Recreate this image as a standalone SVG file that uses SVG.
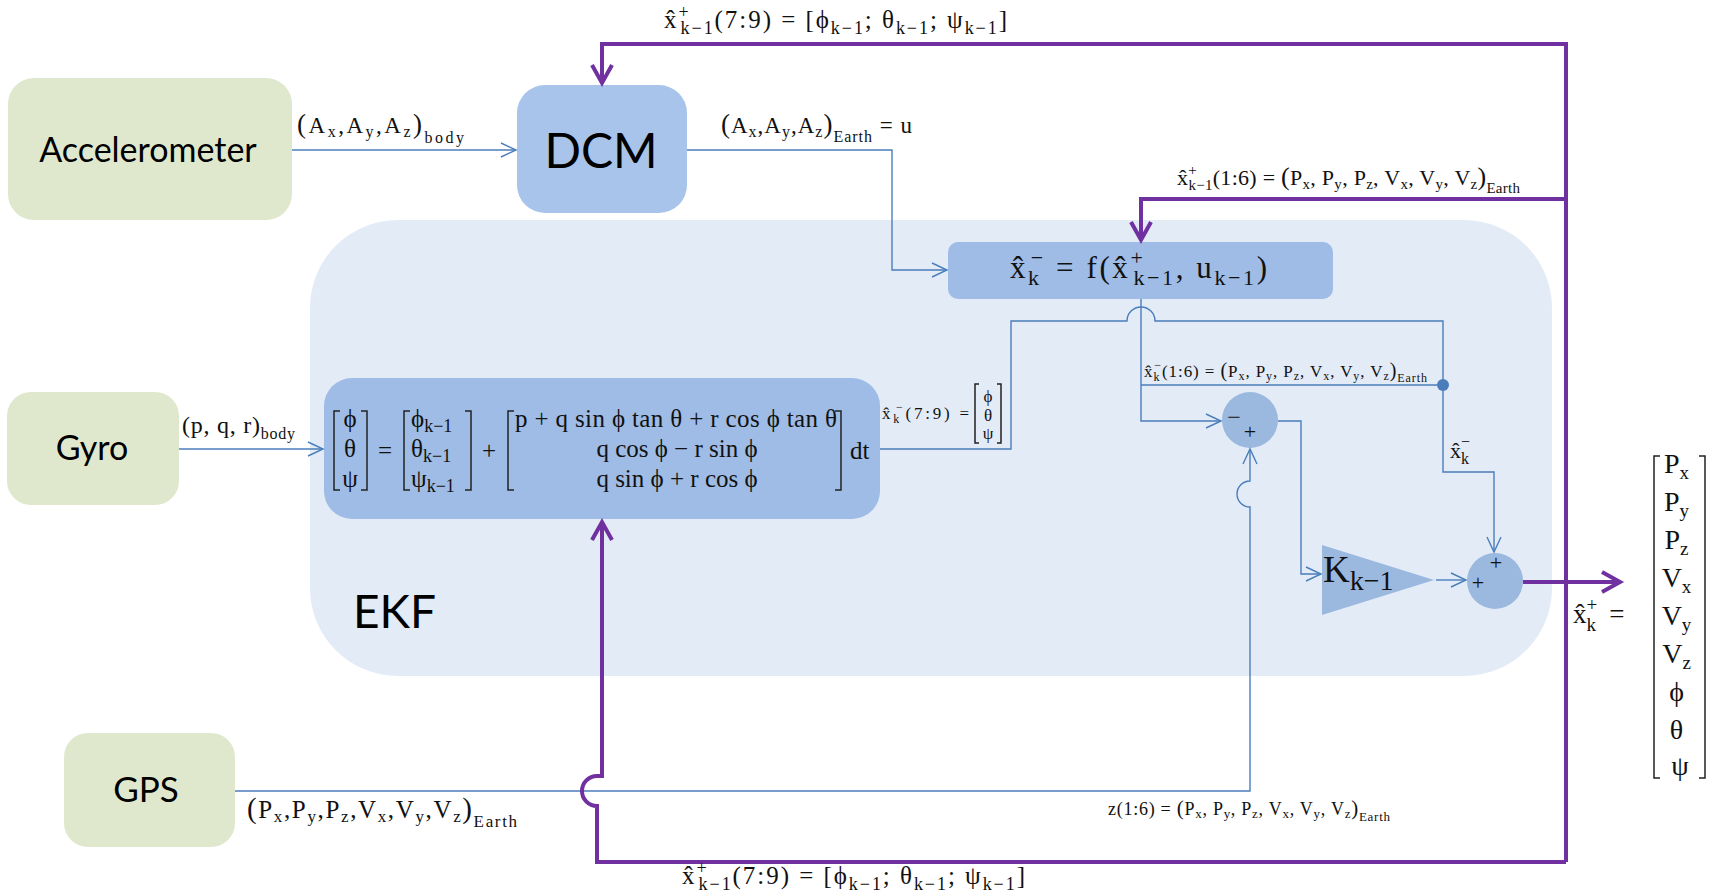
<svg xmlns="http://www.w3.org/2000/svg" width="1717" height="896" viewBox="0 0 1717 896">
<style>
.src{fill:#DFE8CC}
.box{fill:#9EBCE5}
.m{font-family:"Liberation Serif","DejaVu Serif",serif;fill:#111}
.s{font-family:Lato,"Open Sans","Liberation Sans",sans-serif;fill:#000}
.b{fill:none;stroke:#4A7EBB;stroke-width:1.4}
.p{fill:none;stroke:#7030A0;stroke-width:4}
.br{fill:none;stroke:#222;stroke-width:1.5}
</style>
<defs>
<marker id="ab" viewBox="0 0 18 16" refX="16" refY="8" markerWidth="18" markerHeight="16" markerUnits="userSpaceOnUse" orient="auto"><path d="M1,1 L16,8 L1,15" fill="none" stroke="#4A7EBB" stroke-width="1.4"/></marker>
<marker id="ap" viewBox="0 0 26 26" refX="21" refY="13" markerWidth="26" markerHeight="26" markerUnits="userSpaceOnUse" orient="auto"><path d="M3,3 L21,13 L3,23" fill="none" stroke="#7030A0" stroke-width="4"/></marker>
</defs>
<rect width="1717" height="896" fill="#fff"/>

<g id="ekf">
<rect x="310" y="220" width="1242" height="456" rx="88" fill="#E3EBF7"/>
<text class="s" x="353" y="628" font-size="46">EKF</text>
</g>

<g id="accelerometer">
<rect class="src" x="8" y="78" width="284" height="142" rx="26"/>
<text class="s" x="148" y="162" font-size="34" text-anchor="middle">Accelerometer</text>
</g>

<g id="dcm">
<rect x="517" y="85" width="170" height="128" rx="28" fill="#A8C4EA"/>
<text class="s" x="601" y="168" font-size="48" text-anchor="middle">DCM</text>
</g>

<g id="gyro">
<rect class="src" x="7" y="392" width="172" height="113" rx="24"/>
<text class="s" x="92" y="460" font-size="34" text-anchor="middle">Gyro</text>
</g>

<g id="gps">
<rect class="src" x="64" y="733" width="171" height="114" rx="24"/>
<text class="s" x="146" y="802" font-size="35" text-anchor="middle">GPS</text>
</g>

<g id="predict">
<rect class="box" x="948" y="242" width="385" height="57" rx="10"/>
<text class="m" x="1010" y="278" font-size="31" textLength="257">x̂<tspan font-size="22" dy="7">k</tspan><tspan font-size="22" dx="-11" dy="-20">−</tspan><tspan dy="13"> = f(x̂</tspan><tspan font-size="22" dy="-13">+</tspan><tspan font-size="22" dx="-12" dy="20">k−1</tspan><tspan dy="-7">, u</tspan><tspan font-size="22" dy="7">k−1</tspan><tspan dy="-7">)</tspan></text>
</g>

<g id="attitude">
<rect class="box" x="324" y="378" width="556" height="141" rx="28"/>
<path class="br" d="M340 411 H334 V490 H340 M361 411 H367 V490 H361"/>
<text class="m" font-size="25" text-anchor="middle"><tspan x="350" y="427">ϕ</tspan><tspan x="350" y="457">θ</tspan><tspan x="350" y="487">ψ</tspan></text>
<text class="m" x="385" y="459" font-size="25" text-anchor="middle">=</text>
<path class="br" d="M410 411 H404 V490 H410 M465 411 H471 V490 H465"/>
<text class="m" x="411" y="427" font-size="25">ϕ<tspan font-size="18" dy="5">k−1</tspan></text>
<text class="m" x="411" y="457" font-size="25">θ<tspan font-size="18" dy="5">k−1</tspan></text>
<text class="m" x="411" y="487" font-size="25">ψ<tspan font-size="18" dy="5">k−1</tspan></text>
<text class="m" x="489" y="459" font-size="25" text-anchor="middle">+</text>
<path class="br" d="M514 411 H508 V490 H514 M835 411 H841 V490 H835"/>
<text class="m" x="515" y="427" font-size="25" textLength="322">p + q sin ϕ tan θ + r cos ϕ tan θ</text>
<text class="m" x="677" y="457" font-size="25" text-anchor="middle">q cos ϕ − r sin ϕ</text>
<text class="m" x="677" y="487" font-size="25" text-anchor="middle">q sin ϕ + r cos ϕ</text>
<text class="m" x="850" y="459" font-size="25">dt</text>
</g>

<g id="innovation">
<circle cx="1250" cy="420" r="28" fill="#9BB8DF"/>
<text class="m" x="1234" y="425" font-size="24" text-anchor="middle">−</text>
<text class="m" x="1250" y="439" font-size="22" text-anchor="middle">+</text>
</g>

<g id="gain">
<polygon points="1322,545 1434,580 1322,615" fill="#9BB8DF"/>
<text class="m" x="1323" y="582" font-size="37">K<tspan font-size="28" dy="8">k−1</tspan></text>
</g>

<g id="sum">
<circle cx="1495" cy="581" r="28" fill="#9BB8DF"/>
<text class="m" x="1478" y="590" font-size="22" text-anchor="middle">+</text>
<text class="m" x="1496" y="570" font-size="22" text-anchor="middle">+</text>
</g>

<g id="output">
<text class="m" x="1573" y="623" font-size="27">x̂<tspan font-size="19" dy="8">k</tspan><tspan font-size="19" dx="-9.5" dy="-20">+</tspan><tspan dx="12" dy="12">=</tspan></text>
<path class="br" d="M1660 456 H1654 V778 H1660 M1699 456 H1705 V778 H1699"/>
<text class="m" font-size="28" text-anchor="middle">
<tspan x="1680" y="473">P<tspan font-size="19" dy="6">x</tspan></tspan>
<tspan x="1680" y="511">P<tspan font-size="19" dy="6">y</tspan></tspan>
<tspan x="1680" y="549">P<tspan font-size="19" dy="6">z</tspan></tspan>
<tspan x="1680" y="587">V<tspan font-size="19" dy="6">x</tspan></tspan>
<tspan x="1680" y="625">V<tspan font-size="19" dy="6">y</tspan></tspan>
<tspan x="1680" y="663">V<tspan font-size="19" dy="6">z</tspan></tspan>
<tspan x="1680" y="701">ϕ</tspan>
<tspan x="1680" y="739">θ</tspan>
<tspan x="1680" y="775">ψ</tspan>
</text>
</g>

<g id="connectors">
<path class="b" d="M292 150 H516" marker-end="url(#ab)"/>
<path class="b" d="M687 150 H892 V270 H947" marker-end="url(#ab)"/>
<path class="b" d="M179 449 H323" marker-end="url(#ab)"/>
<path class="b" d="M880 449 H1011 V321 H1127 A14 14 0 0 1 1155 321 H1443 V472 H1494 V552" marker-end="url(#ab)"/>
<path class="b" d="M1141 299 V421 H1221" marker-end="url(#ab)"/>
<path class="b" d="M1141 385 H1443"/>
<circle cx="1443" cy="385" r="6" fill="#4A7EBB"/>
<path class="b" d="M235 791 H1250 V507 A13 13 0 0 1 1250 481 V449" marker-end="url(#ab)"/>
<path class="b" d="M1278 421 H1301 V574 H1321" marker-end="url(#ab)"/>
<path class="b" d="M1436 580 H1466" marker-end="url(#ab)"/>
<path class="p" d="M1566 862 V44 H602 V83" marker-end="url(#ap)"/>
<path class="p" d="M1566 199 H1141 V240" marker-end="url(#ap)"/>
<path class="p" d="M1566 862 H597 V806 A15 15 0 0 1 597 776 H602 V522" marker-end="url(#ap)"/>
<path class="p" d="M1523 582 H1620" marker-end="url(#ap)"/>

<text class="m" x="664" y="28" font-size="25" textLength="343">x̂<tspan font-size="18" dy="-10">+</tspan><tspan font-size="18" dx="-10" dy="16">k−1</tspan><tspan dy="-6">(7:9) = [ϕ</tspan><tspan font-size="18" dy="6">k−1</tspan><tspan dy="-6">; θ</tspan><tspan font-size="18" dy="6">k−1</tspan><tspan dy="-6">; ψ</tspan><tspan font-size="18" dy="6">k−1</tspan><tspan dy="-6">]</tspan></text>

<text class="m" x="297" y="133" font-size="23" textLength="167"><tspan font-size="27">(</tspan>A<tspan font-size="16" dy="4">x</tspan><tspan dy="-4">,A</tspan><tspan font-size="16" dy="4">y</tspan><tspan dy="-4">,A</tspan><tspan font-size="16" dy="4">z</tspan><tspan dy="-4" font-size="27">)</tspan><tspan font-size="16" dy="10">body</tspan></text>

<text class="m" x="721" y="133" font-size="23" textLength="191"><tspan font-size="27">(</tspan>A<tspan font-size="16" dy="4">x</tspan><tspan dy="-4">,A</tspan><tspan font-size="16" dy="4">y</tspan><tspan dy="-4">,A</tspan><tspan font-size="16" dy="4">z</tspan><tspan dy="-4" font-size="27">)</tspan><tspan font-size="16" dy="9">Earth</tspan><tspan dy="-9"> = u</tspan></text>

<text class="m" x="1177" y="185" font-size="22" textLength="343">x̂<tspan font-size="15" dy="-10">+</tspan><tspan font-size="15" dx="-8.5" dy="15">k−1</tspan><tspan dy="-5">(1:6) = </tspan><tspan font-size="26">(</tspan>P<tspan font-size="15" dy="4">x</tspan><tspan dy="-4">, P</tspan><tspan font-size="15" dy="4">y</tspan><tspan dy="-4">, P</tspan><tspan font-size="15" dy="4">z</tspan><tspan dy="-4">, V</tspan><tspan font-size="15" dy="4">x</tspan><tspan dy="-4">, V</tspan><tspan font-size="15" dy="4">y</tspan><tspan dy="-4">, V</tspan><tspan font-size="15" dy="4">z</tspan><tspan dy="-4" font-size="26">)</tspan><tspan font-size="15" dy="8">Earth</tspan></text>

<text class="m" x="182" y="433" font-size="24" textLength="113">(p, q, r)<tspan font-size="16" dy="6">body</tspan></text>

<text class="m" x="882" y="419" font-size="17" textLength="87">x̂<tspan font-size="12" dy="4">k</tspan><tspan font-size="12" dx="-6" dy="-12">−</tspan><tspan dy="8">(7:9) =</tspan></text>
<path class="br" d="M979 384 H975 V443 H979 M997 384 H1001 V443 H997"/>
<text class="m" font-size="17" text-anchor="middle"><tspan x="988" y="402">ϕ</tspan><tspan x="988" y="421">θ</tspan><tspan x="988" y="439">ψ</tspan></text>

<text class="m" x="1144" y="377" font-size="17" textLength="283">x̂<tspan font-size="12" dy="4">k</tspan><tspan font-size="12" dx="-6" dy="-12">−</tspan><tspan dy="8">(1:6) = </tspan><tspan font-size="20">(</tspan>P<tspan font-size="12" dy="3">x</tspan><tspan dy="-3">, P</tspan><tspan font-size="12" dy="3">y</tspan><tspan dy="-3">, P</tspan><tspan font-size="12" dy="3">z</tspan><tspan dy="-3">, V</tspan><tspan font-size="12" dy="3">x</tspan><tspan dy="-3">, V</tspan><tspan font-size="12" dy="3">y</tspan><tspan dy="-3">, V</tspan><tspan font-size="12" dy="3">z</tspan><tspan dy="-3" font-size="20">)</tspan><tspan font-size="12" dy="5">Earth</tspan></text>

<text class="m" x="1450" y="458" font-size="22">x̂<tspan font-size="16" dy="6">k</tspan><tspan font-size="16" dx="-8" dy="-17">−</tspan></text>

<text class="m" x="1108" y="815" font-size="18" textLength="282">z(1:6) = <tspan font-size="21">(</tspan>P<tspan font-size="13" dy="3">x</tspan><tspan dy="-3">, P</tspan><tspan font-size="13" dy="3">y</tspan><tspan dy="-3">, P</tspan><tspan font-size="13" dy="3">z</tspan><tspan dy="-3">, V</tspan><tspan font-size="13" dy="3">x</tspan><tspan dy="-3">, V</tspan><tspan font-size="13" dy="3">y</tspan><tspan dy="-3">, V</tspan><tspan font-size="13" dy="3">z</tspan><tspan dy="-3" font-size="21">)</tspan><tspan font-size="13" dy="6">Earth</tspan></text>

<text class="m" x="247" y="818" font-size="25" textLength="270"><tspan font-size="29">(</tspan>P<tspan font-size="17" dy="4">x</tspan><tspan dy="-4">,P</tspan><tspan font-size="17" dy="4">y</tspan><tspan dy="-4">,P</tspan><tspan font-size="17" dy="4">z</tspan><tspan dy="-4">,V</tspan><tspan font-size="17" dy="4">x</tspan><tspan dy="-4">,V</tspan><tspan font-size="17" dy="4">y</tspan><tspan dy="-4">,V</tspan><tspan font-size="17" dy="4">z</tspan><tspan dy="-4" font-size="29">)</tspan><tspan font-size="17" dy="9">Earth</tspan></text>

<text class="m" x="682" y="884" font-size="25" textLength="343">x̂<tspan font-size="18" dy="-10">+</tspan><tspan font-size="18" dx="-10" dy="16">k−1</tspan><tspan dy="-6">(7:9) = [ϕ</tspan><tspan font-size="18" dy="6">k−1</tspan><tspan dy="-6">; θ</tspan><tspan font-size="18" dy="6">k−1</tspan><tspan dy="-6">; ψ</tspan><tspan font-size="18" dy="6">k−1</tspan><tspan dy="-6">]</tspan></text>
</g>
</svg>
